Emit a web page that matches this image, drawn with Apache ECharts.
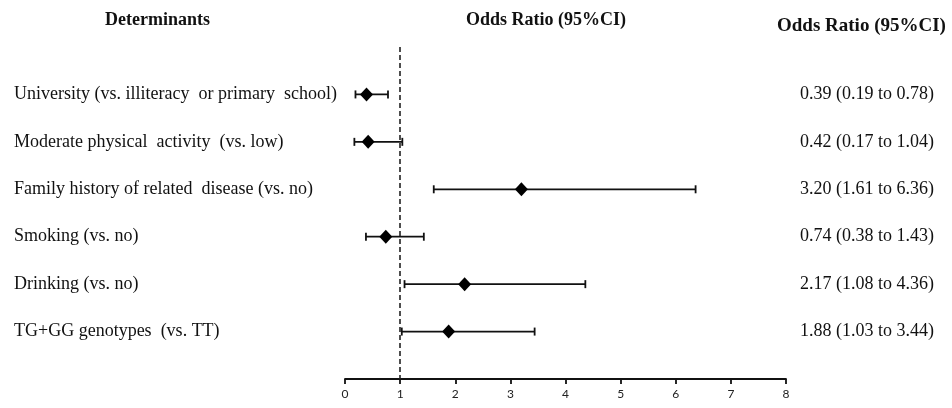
<!DOCTYPE html>
<html>
<head>
<meta charset="utf-8">
<script src="https://cdn.jsdelivr.net/npm/echarts@6/dist/echarts.min.js"></script>
<style>
  html, body { margin: 0; padding: 0; background: #fff; }
  #chart { width: 952px; height: 408px; }
</style>
</head>
<body>
<div id="chart"></div>
<script>
// forest plot data
const determinants = [
  'University (vs. illiteracy  or primary  school)',
  'Moderate physical  activity  (vs. low)',
  'Family history of related  disease (vs. no)',
  'Smoking (vs. no)',
  'Drinking (vs. no)',
  'TG+GG genotypes  (vs. TT)'
];
const oddsRatio = [0.39, 0.42, 3.20, 0.74, 2.17, 1.88];
const lowerCI = [0.19, 0.17, 1.61, 0.38, 1.08, 1.03];
const upperCI = [0.78, 1.04, 6.36, 1.43, 4.36, 3.44];
const xTicks = [0, 1, 2, 3, 4, 5, 6, 7, 8];
const refLine = 1;

const chart = echarts.init(document.getElementById('chart'));

const rows = determinants.map((d, i) => i + 1);
const serif = '"Liberation Serif", "Times New Roman", serif';

const fmtCI = i => oddsRatio[i].toFixed(2) + ' (' + lowerCI[i].toFixed(2) + ' to ' + upperCI[i].toFixed(2) + ')';

const yBase = {
  type: 'value',
  inverse: true,
  min: 0,
  max: determinants.length + 1,
  interval: 1,
  axisLine: { show: false },
  axisTick: { show: false },
  splitLine: { show: false },
  showMinLabel: false,
  showMaxLabel: false
};

const option = {
  animation: false,
  backgroundColor: '#fff',
  grid: { left: 345, right: 166, top: 47, bottom: 29, containLabel: false },
  graphic: [
    { type: 'text', left: 105, top: 11, style: { text: 'Determinants', font: 'bold 18px ' + serif, fill: '#111' } },
    { type: 'text', left: 466, top: 11, style: { text: 'Odds Ratio (95%CI)', font: 'bold 18px ' + serif, fill: '#111' } },
    { type: 'text', left: 777, top: 17, style: { text: 'Odds Ratio (95%CI)', font: 'bold 19px ' + serif, fill: '#111' } }
  ],
  xAxis: {
    type: 'value',
    min: xTicks[0],
    max: xTicks[xTicks.length - 1],
    interval: 1,
    axisLine: { show: true, onZero: false, lineStyle: { color: '#111', width: 1.8 } },
    axisTick: { show: true, length: 5, lineStyle: { color: '#111', width: 1.8 } },
    splitLine: { show: false },
    axisLabel: { margin: 9, fontSize: 12, color: '#222', fontFamily: 'Lato, "Open Sans", sans-serif' }
  },
  yAxis: [
    Object.assign({}, yBase, {
      position: 'left',
      axisLabel: {
        align: 'left',
        margin: 331,
        fontSize: 18,
        fontFamily: serif,
        color: '#111',
        formatter: v => determinants[v - 1] || ''
      }
    }),
    Object.assign({}, yBase, {
      position: 'right',
      axisLabel: {
        align: 'left',
        margin: 14,
        fontSize: 18,
        fontFamily: serif,
        color: '#111',
        formatter: v => (v >= 1 && v <= determinants.length) ? fmtCI(v - 1) : ''
      }
    })
  ],
  series: [
    {
      type: 'custom',
      yAxisIndex: 0,
      encode: { x: [1, 2], y: 0 },
      data: rows.map((r, i) => [r, lowerCI[i], upperCI[i]]),
      renderItem: (params, api) => {
        const y = api.value(0);
        const lo = api.coord([api.value(1), y]);
        const hi = api.coord([api.value(2), y]);
        const h = 4;
        const st = { stroke: '#111', lineWidth: 1.8 };
        return {
          type: 'group',
          children: [
            { type: 'line', shape: { x1: lo[0], y1: lo[1], x2: hi[0], y2: hi[1] }, style: st },
            { type: 'line', shape: { x1: lo[0], y1: lo[1] - h, x2: lo[0], y2: lo[1] + h }, style: st },
            { type: 'line', shape: { x1: hi[0], y1: hi[1] - h, x2: hi[0], y2: hi[1] + h }, style: st }
          ]
        };
      },
      z: 2
    },
    {
      type: 'scatter',
      yAxisIndex: 0,
      symbol: 'diamond',
      symbolSize: [13, 14],
      itemStyle: { color: '#000', opacity: 1 },
      data: rows.map((r, i) => [oddsRatio[i], r]),
      z: 3,
      markLine: {
        silent: true,
        symbol: 'none',
        label: { show: false },
        lineStyle: { color: '#222', type: [5, 3], width: 1.6 },
        data: [{ xAxis: refLine }]
      }
    }
  ]
};

chart.setOption(option);
</script>
</body>
</html>
